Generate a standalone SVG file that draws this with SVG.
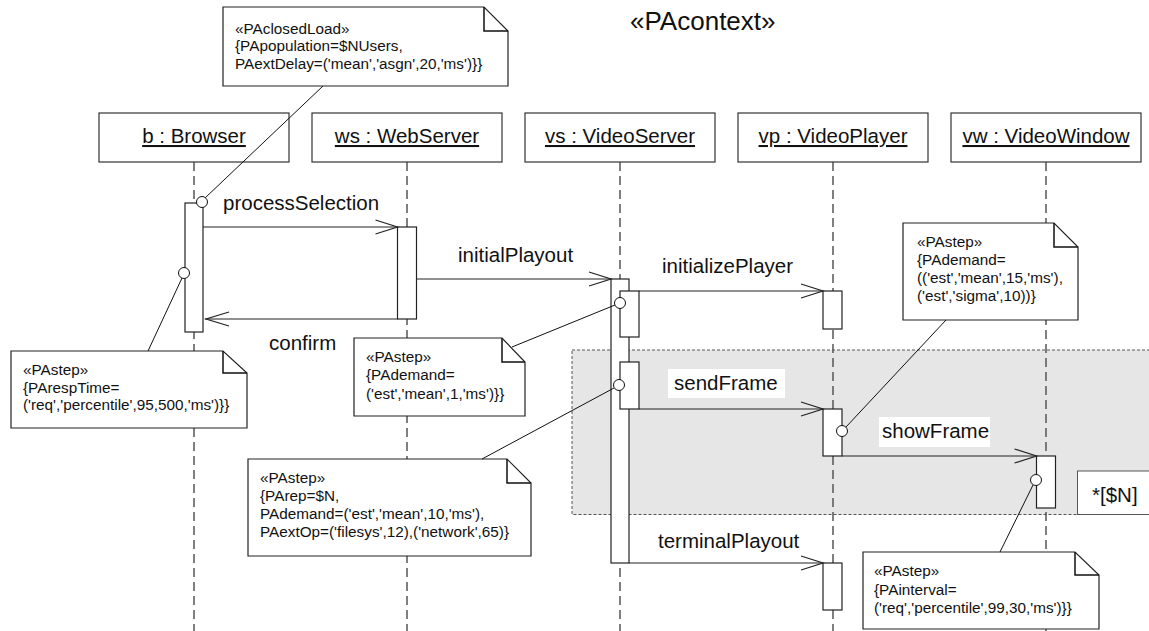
<svg xmlns="http://www.w3.org/2000/svg" width="1149" height="631" viewBox="0 0 1149 631">
<style>
.lbl{font-family:"Liberation Sans",Arial,sans-serif;font-size:20.5px;fill:#111}
.hd{font-family:"Liberation Sans",Arial,sans-serif;font-size:20.5px;fill:#111;text-decoration:underline}
.nt{font-family:"Liberation Sans",Arial,sans-serif;font-size:15.3px;fill:#111}
.ttl{font-family:"Liberation Sans",Arial,sans-serif;font-size:26px;fill:#111}
.box{fill:#fff;stroke:#333;stroke-width:1.2}
.act{fill:#fff;stroke:#222;stroke-width:1.2}
.life{stroke:#555;stroke-width:1.5;stroke-dasharray:9 5;fill:none}
.msg{stroke:#222;stroke-width:1.2;fill:none}
.note{fill:#fff;stroke:#222;stroke-width:1.2}
.fold{fill:none;stroke:#111;stroke-width:1.5}
.con{stroke:#111;stroke-width:1;fill:none}
.anc{fill:#fff;stroke:#111;stroke-width:1}
</style>

<text class="ttl" x="630" y="29.5">«PAcontext»</text>

<g id="loop">
<rect x="572" y="350" width="590" height="164.5" fill="#e6e6e6" stroke="#555" stroke-width="1" stroke-dasharray="3 2"/>
<rect x="1077.5" y="471" width="90" height="43.5" fill="#fff" stroke="#555" stroke-width="1"/>
<text class="lbl" x="1092" y="502">*[$N]</text>
</g>

<g id="lifelines">
<line class="life" x1="194" y1="162" x2="194" y2="631"/>
<line class="life" x1="407" y1="162" x2="407" y2="631"/>
<line class="life" x1="620" y1="162" x2="620" y2="631"/>
<line class="life" x1="833" y1="162" x2="833" y2="631"/>
<line class="life" x1="1046" y1="162" x2="1046" y2="631"/>
</g>

<g id="browser">
<rect class="box" x="99" y="113" width="190" height="49"/>
<text class="hd" x="194" y="143" text-anchor="middle">b : Browser</text>
<rect class="act" x="185" y="203" width="18" height="129"/>
</g>
<g id="webserver">
<rect class="box" x="312" y="113" width="190" height="49"/>
<text class="hd" x="407" y="143" text-anchor="middle">ws : WebServer</text>
<rect class="act" x="397.5" y="227" width="19" height="92"/>
</g>
<g id="videoserver">
<rect class="box" x="525" y="113" width="190" height="49"/>
<text class="hd" x="620" y="143" text-anchor="middle">vs : VideoServer</text>
<rect class="act" x="611" y="279" width="18" height="284"/>
<rect class="act" x="620" y="291" width="19" height="46"/>
<rect class="act" x="620" y="362" width="19" height="47"/>
</g>
<g id="videoplayer">
<rect class="box" x="738" y="113" width="190" height="49"/>
<text class="hd" x="833" y="143" text-anchor="middle">vp : VideoPlayer</text>
<rect class="act" x="823" y="291" width="19" height="38"/>
<rect class="act" x="823" y="409" width="19" height="47"/>
<rect class="act" x="823" y="563" width="19" height="47"/>
</g>
<g id="videowindow">
<rect class="box" x="951" y="113" width="190" height="49"/>
<text class="hd" x="1046" y="143" text-anchor="middle">vw : VideoWindow</text>
<rect class="act" x="1036.5" y="456" width="19" height="52"/>
</g>

<g id="messages">
<line class="msg" x1="203" y1="227" x2="397.5" y2="227"/>
<polyline class="msg" points="375.5,220 397.5,227 375.5,234"/>
<line class="msg" x1="397.5" y1="319" x2="205" y2="319"/>
<polyline class="msg" points="229,312 206,319 229,326"/>
<line class="msg" x1="416.5" y1="279" x2="611" y2="279"/>
<polyline class="msg" points="589,272 611,279 589,286"/>
<line class="msg" x1="639" y1="291" x2="823" y2="291"/>
<polyline class="msg" points="801,284 823,291 801,298"/>
<line class="msg" x1="639" y1="409" x2="823" y2="409"/>
<polyline class="msg" points="801,402 823,409 801,416"/>
<line class="msg" x1="842" y1="456" x2="1036.5" y2="456"/>
<polyline class="msg" points="1014.5,449 1036.5,456 1014.5,463"/>
<line class="msg" x1="629" y1="563" x2="823" y2="563"/>
<polyline class="msg" points="801,556 823,563 801,570"/>
<text class="lbl" x="223" y="210">processSelection</text>
<text class="lbl" x="269" y="350">confirm</text>
<text class="lbl" x="458" y="262">initialPlayout</text>
<text class="lbl" x="662" y="273">initializePlayer</text>
<rect x="668" y="369" width="117" height="29" fill="#fff"/>
<text class="lbl" x="674" y="390">sendFrame</text>
<rect x="879" y="417" width="111" height="30" fill="#fff"/>
<text class="lbl" x="882" y="438">showFrame</text>
<text class="lbl" x="658" y="548">terminalPlayout</text>
</g>

<g id="note-closedload">
<path class="note" d="M223,7 H484 L508,31 V86 H223 Z"/>
<path class="fold" d="M484,7 V31 H508"/>
<text class="nt" x="235" y="33.5">«PAclosedLoad»</text>
<text class="nt" x="235" y="51">{PApopulation=$NUsers,</text>
<text class="nt" x="235" y="68.5">PAextDelay=('mean','asgn',20,'ms')}}</text>
</g>
<g id="note-resptime">
<path class="note" d="M11,351 H223 L247,373 V428 H11 Z"/>
<path class="fold" d="M223,351 V373 H247"/>
<text class="nt" x="23" y="375">«PAstep»</text>
<text class="nt" x="23" y="392.5">{PArespTime=</text>
<text class="nt" x="23" y="410">('req','percentile',95,500,'ms')}}</text>
</g>
<g id="note-demand1">
<path class="note" d="M354,338 H502 L525,362 V416 H354 Z"/>
<path class="fold" d="M502,338 V362 H525"/>
<text class="nt" x="366" y="362">«PAstep»</text>
<text class="nt" x="366" y="380">{PAdemand=</text>
<text class="nt" x="366" y="399">('est','mean',1,'ms')}}</text>
</g>
<g id="note-rep">
<path class="note" d="M248,459 H507 L531,483 V556 H248 Z"/>
<path class="fold" d="M507,459 V483 H531"/>
<text class="nt" x="260" y="483">«PAstep»</text>
<text class="nt" x="260" y="501">{PArep=$N,</text>
<text class="nt" x="260" y="519">PAdemand=('est','mean',10,'ms'),</text>
<text class="nt" x="260" y="537">PAextOp=('filesys',12),('network',65)}</text>
</g>
<g id="note-demand2">
<path class="note" d="M903,223 H1054 L1078,247 V320 H903 Z"/>
<path class="fold" d="M1054,223 V247 H1078"/>
<text class="nt" x="917" y="247">«PAstep»</text>
<text class="nt" x="917" y="265">{PAdemand=</text>
<text class="nt" x="917" y="283">(('est','mean',15,'ms'),</text>
<text class="nt" x="917" y="301">('est','sigma',10))}</text>
</g>
<g id="note-interval">
<path class="note" d="M863,552 H1075 L1099,575 V629 H863 Z"/>
<path class="fold" d="M1075,552 V575 H1099"/>
<text class="nt" x="874" y="576">«PAstep»</text>
<text class="nt" x="874" y="594.5">{PAinterval=</text>
<text class="nt" x="874" y="613">('req','percentile',99,30,'ms')}}</text>
</g>

<g id="connectors">
<line class="con" x1="323" y1="86" x2="205" y2="198"/>
<circle class="anc" cx="202" cy="202" r="5.5"/>
<line class="con" x1="148" y1="351" x2="182" y2="278"/>
<circle class="anc" cx="184" cy="273" r="5.5"/>
<line class="con" x1="512" y1="347" x2="615" y2="305"/>
<circle class="anc" cx="620" cy="303" r="5.5"/>
<line class="con" x1="482" y1="459" x2="614" y2="388"/>
<circle class="anc" cx="619" cy="385" r="5.5"/>
<line class="con" x1="946" y1="320" x2="846" y2="427"/>
<circle class="anc" cx="842" cy="431" r="5.5"/>
<line class="con" x1="1000" y1="552" x2="1033" y2="485"/>
<circle class="anc" cx="1036" cy="480" r="5.5"/>
</g>
</svg>
